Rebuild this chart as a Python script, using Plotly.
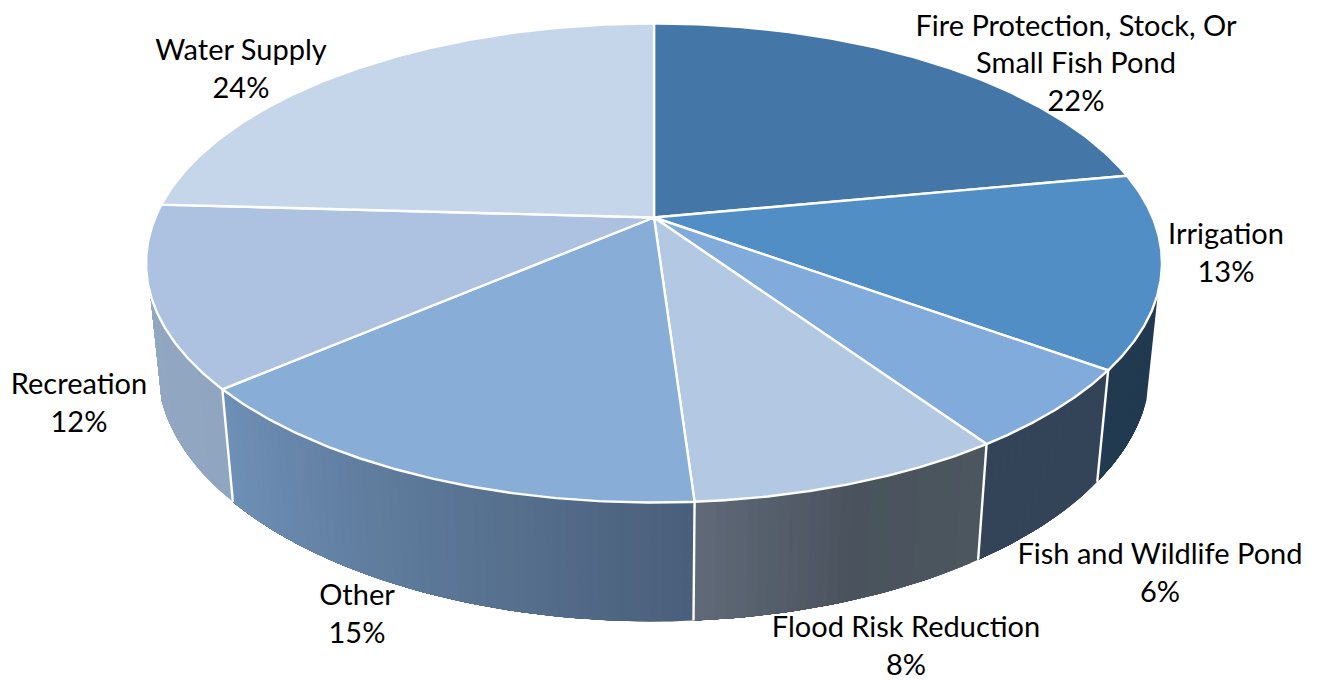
import numpy as np
import plotly.graph_objects as go

# ---- data (clockwise from 12 o'clock) ----
categories = ["Fire Protection, Stock, Or<br>Small Fish Pond", "Irrigation", "Fish and Wildlife Pond",
              "Flood Risk Reduction", "Other", "Recreation", "Water Supply"]
values = [22.0, 13.0, 5.5, 8.45, 14.75, 12.2, 24.1]
shown_percent = ["22%", "13%", "6%", "8%", "15%", "12%", "24%"]

top_colors = ["#4477A7", "#528EC6", "#81ABDB", "#B3C8E3", "#88ADD6", "#ADC2E0", "#C5D5EA"]
# wall shading: colour stops (fraction along the slice, rgb)
wall_stops = [
    [(0, (34, 58, 80)), (1, (34, 58, 80))],
    [(0, (34, 58, 80)), (1, (34, 58, 80))],
    [(0, (51, 67, 88)), (1, (51, 67, 88))],
    [(0, (76, 86, 95)), (0.5, (74, 83, 93)), (1, (96, 106, 121))],
    [(0, (74, 95, 122)), (0.5, (92, 120, 152)), (1, (111, 144, 183))],
    [(0, (144, 165, 192)), (1, (148, 169, 196))],
    [(0, (148, 169, 196)), (1, (148, 169, 196))],
]

label_x = [1076, 1226, 1160, 906, 357, 79, 241]
label_y = [66, 256, 576, 649, 617, 406, 72]
LABEL_FONT = dict(family="Lato", size=29, color="#000000")

# ---- projection of the tilted disc onto the page ----
CX, CY, A, B, K = 654.0, 217.5, 498.7, 230.9, 0.19
VANISH_Y, DEPTH = 5000.0, 0.0214
WALL_FROM, WALL_TO = 108.0, 252.0


def top_point(deg):
    t = np.radians(np.asarray(deg, dtype=float))
    X, Y = np.sin(t), np.cos(t)
    w = 1 + K * Y
    return CX + A * X / w, CY - B * Y / w, w


def bottom_point(deg):
    x, y, w = top_point(deg)
    d = DEPTH / w
    return x + d * (CX - x), y + d * (VANISH_Y - y)


def mix(stops, f):
    for (f0, c0), (f1, c1) in zip(stops, stops[1:]):
        if f <= f1:
            u = (f - f0) / (f1 - f0) if f1 > f0 else 0
            return "rgb(%d,%d,%d)" % tuple(round(a + u * (b - a)) for a, b in zip(c0, c1))
    return "rgb(%d,%d,%d)" % stops[-1][1]


edges = np.concatenate([[0], np.cumsum(values)]) * 3.6
fig = go.Figure()
common = dict(mode="lines", hoverinfo="skip", showlegend=False)

# side walls: each shaded band runs to the end of its slice and is painted over by the next
for i in range(len(values)):
    lo, hi = max(edges[i], WALL_FROM), min(edges[i + 1], WALL_TO)
    if hi <= lo:
        continue
    n = max(1, int((hi - lo) / 1.0))
    for a0 in np.linspace(lo, hi, n + 1)[:-1]:
        arc = np.linspace(a0, hi, max(3, int(hi - a0) + 2))
        tx, ty, _ = top_point(arc)
        bx, by = bottom_point(arc)
        f = (a0 + 0.5 - edges[i]) / (edges[i + 1] - edges[i])
        fig.add_trace(go.Scatter(x=np.r_[tx, bx[::-1]], y=np.r_[ty, by[::-1]], fill="toself",
                                 fillcolor=mix(wall_stops[i], f), line=dict(width=0), **common))

# white seams between walls
for e in edges[1:-1]:
    if WALL_FROM < e < WALL_TO:
        tx, ty, _ = top_point(e)
        bx, by = bottom_point(e)
        fig.add_trace(go.Scatter(x=[tx, bx], y=[ty, by], line=dict(color="white", width=2.4), **common))

# top faces
for i in range(len(values)):
    arc = np.linspace(edges[i], edges[i + 1], 120)
    ax, ay, _ = top_point(arc)
    fig.add_trace(go.Scatter(x=np.r_[CX, ax, CX], y=np.r_[CY, ay, CY], fill="toself",
                             fillcolor=top_colors[i], line=dict(color="white", width=2.4), **common))

# data labels
fig.add_trace(go.Scatter(x=label_x, y=label_y, mode="text", hoverinfo="skip", showlegend=False,
                         text=[f"{c}<br>{p}" for c, p in zip(categories, shown_percent)],
                         textposition="middle center", textfont=LABEL_FONT, cliponaxis=False))

fig.update_layout(width=1317, height=681, margin=dict(l=0, r=0, t=0, b=0),
                  paper_bgcolor="white", plot_bgcolor="white",
                  xaxis=dict(range=[0, 1317], visible=False, fixedrange=True),
                  yaxis=dict(range=[681, 0], visible=False, fixedrange=True))
fig.write_html("out.html", config=dict(displayModeBar=False),
               post_script="document.body.style.margin='0';document.body.style.overflow='hidden';")
